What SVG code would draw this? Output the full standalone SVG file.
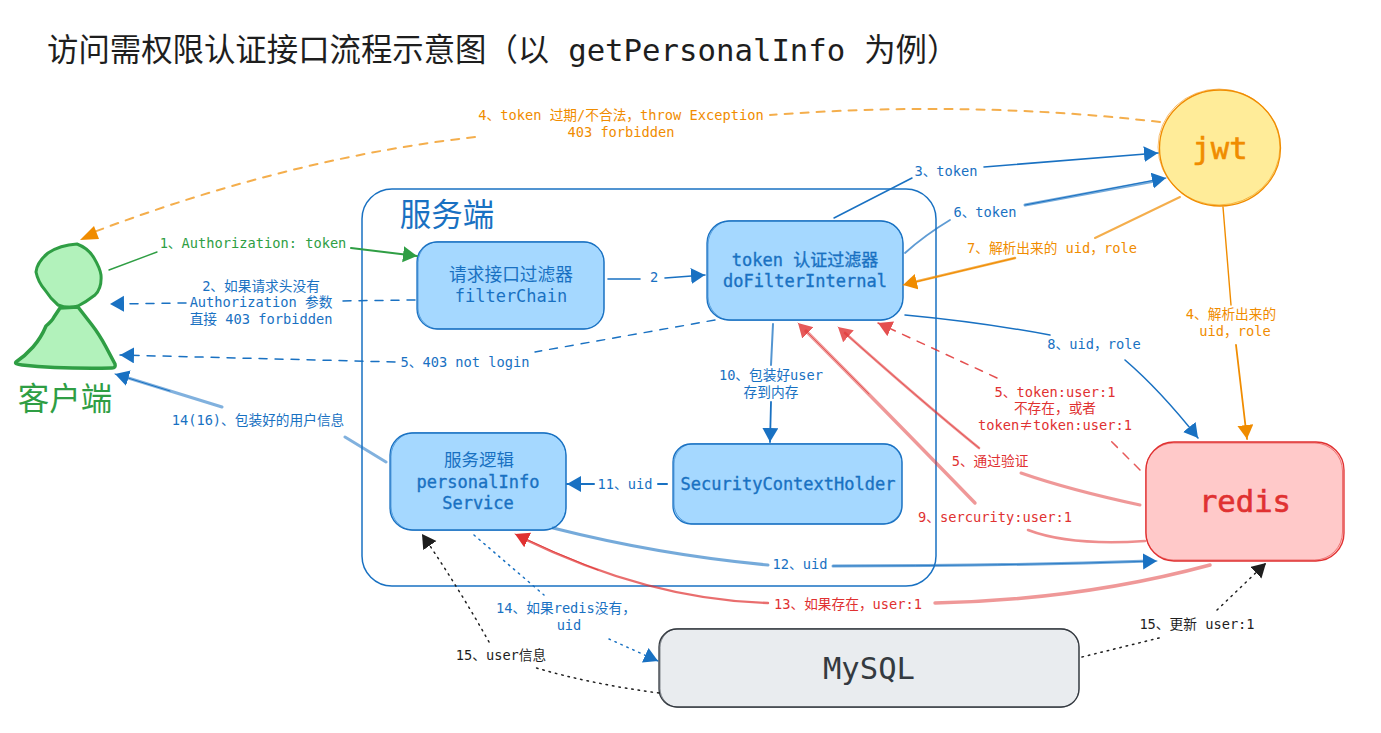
<svg xmlns="http://www.w3.org/2000/svg" width="1381" height="733" viewBox="0 0 1381 733">
<style>
text{font-family:"DejaVu Sans Mono","Noto Sans CJK SC",monospace;text-anchor:middle}
.l{font-size:13.7px}
.n{font-size:17px;fill:#1971c2}
.nb{stroke:#1971c2;stroke-width:.35}
.big{font-size:30.6px;stroke-width:.6}
.blue{fill:#1971c2}.green{fill:#2f9e44}.org{fill:#f08c00}.red{fill:#e03131}.blk{fill:#1e1e1e}
.w{font-family:"Noto Sans CJK SC",sans-serif}
.c{fill:none;stroke-linecap:round;stroke-linejoin:round}
.sb{stroke:#1971c2}.sg{stroke:#2f9e44}.so{stroke:#f08c00}.sr{stroke:#e03131}.sk{stroke:#1e1e1e}
.dash{stroke-dasharray:8 8}.dot{stroke-dasharray:1.5 5}
.box{stroke-width:1.3}
.bl{fill:#a5d8ff;stroke:#1971c2}
.sh{fill:none;stroke-width:.8;opacity:.7}
</style>
<defs>
<marker id="ab" markerUnits="userSpaceOnUse" markerWidth="18" markerHeight="18" refX="14" refY="8" orient="auto"><path d="M0 0L14 8L0 16z" fill="#1971c2"/></marker>
<marker id="ag" markerUnits="userSpaceOnUse" markerWidth="18" markerHeight="18" refX="14" refY="8" orient="auto"><path d="M0 0L14 8L0 16z" fill="#2f9e44"/></marker>
<marker id="ao" markerUnits="userSpaceOnUse" markerWidth="18" markerHeight="18" refX="14" refY="8" orient="auto"><path d="M0 0L14 8L0 16z" fill="#f08c00"/></marker>
<marker id="ar" markerUnits="userSpaceOnUse" markerWidth="18" markerHeight="18" refX="14" refY="8" orient="auto"><path d="M0 0L14 8L0 16z" fill="#e03131"/></marker>
<marker id="ak" markerUnits="userSpaceOnUse" markerWidth="18" markerHeight="18" refX="14" refY="8" orient="auto"><path d="M0 0L14 8L0 16z" fill="#1e1e1e"/></marker>
</defs>
<rect width="1381" height="733" fill="#fff"/>
<text id="title" x="47" y="61" font-size="31.4" fill="#1e1e1e" style="text-anchor:start">访问需权限认证接口流程示意图（以 <tspan font-size="30.7">getPersonalInfo</tspan> 为例）</text>

<g id="frame">
<rect x="362" y="189" width="574" height="397" rx="30" fill="none" stroke="#1971c2" stroke-width="1.5"/>
<text x="447" y="226" font-size="31.5" class="blue w">服务端</text>
</g>

<g id="client">
<path d="M77 244Q88 248 94 258T101 275Q102 288 95 295Q86 302 78 306Q68 309 58 305Q50 298 45 290Q38 282 36 272Q37 262 48 253Q60 245 77 244Z" fill="#b2f2bb" stroke="#2f9e44" stroke-width="3" stroke-linejoin="round"/>
<path d="M60 308L78 307Q85 316 92 325T106 347L115 364Q116 368 112 368Q60 369 22 365Q14 364 16 362Q25 356 33 347T46 326Q52 321 54 317Z" fill="#b2f2bb" stroke="#2f9e44" stroke-width="3.500" stroke-linejoin="round"/>
<text x="65" y="410" font-size="31.5" class="green w">客户端</text>
</g>

<g id="filter">
<rect x="417" y="242" width="187" height="87" rx="20" class="box bl"/>
<rect x="418" y="241.5" width="186" height="87.5" rx="21" class="sh" stroke="#1971c2"/>
<text x="511" y="281" class="n" style="font-size:17.7px">请求接口过滤器</text>
<text x="511" y="302" class="n">filterChain</text>
</g>

<g id="tokenFilter">
<rect x="707" y="221" width="196" height="99" rx="22" class="box bl"/>
<rect x="708" y="220.5" width="195" height="100" rx="24" class="sh" stroke="#1971c2"/>
<text x="805" y="266" class="n nb">token 认证过滤器</text>
<text x="805" y="287" class="n nb">doFilterInternal</text>
</g>

<g id="securityContext">
<rect x="673" y="444" width="229" height="80" rx="18" class="box bl"/>
<rect x="674" y="443.5" width="228" height="80.5" rx="20" class="sh" stroke="#1971c2"/>
<text x="788" y="490" class="n nb">SecurityContextHolder</text>
</g>

<g id="service">
<rect x="390" y="433" width="176" height="97" rx="22" class="box bl"/>
<rect x="391" y="432.5" width="175" height="98" rx="24" class="sh" stroke="#1971c2"/>
<text x="479" y="466" class="n" style="font-size:17.5px">服务逻辑</text>
<text x="478" y="488" class="n nb">personalInfo</text>
<text x="478" y="509" class="n nb">Service</text>
</g>

<g id="jwt">
<ellipse cx="1220" cy="148" rx="60.500" ry="58" fill="#ffec99" stroke="#f08c00" stroke-width="1.3"/>
<ellipse cx="1219" cy="147" rx="61" ry="58" fill="none" stroke="#f08c00" stroke-width=".8" opacity=".7"/>
<text x="1220" y="159" class="big org" stroke="#f08c00">jwt</text>
</g>

<g id="redis">
<rect x="1146" y="442" width="198" height="119" rx="28" fill="#ffc9c9" stroke="#e03131" stroke-width="1.3"/>
<rect x="1145.500" y="443" width="197" height="117" rx="28" class="sh" stroke="#e03131"/>
<text x="1245" y="512" class="big red" stroke="#e03131">redis</text>
</g>

<g id="mysql">
<rect x="659" y="629" width="420" height="78" rx="18" fill="#e9ecef" stroke="#343a40" stroke-width="1.3"/>
<rect x="660" y="628.500" width="419" height="79" rx="19" class="sh" stroke="#343a40"/>
<text x="869" y="679" class="big" fill="#343a40">MySQL</text>
</g>

<g id="connectors">
<path class="c sg" stroke-width="1.4" d="M109 270L157 252"/>
<path class="c sg" stroke-width="2" d="M351 248L417 256" marker-end="url(#ag)"/>
<path class="c sb dash" stroke-width="1.5" d="M415 300L337 301M186 303L110 304" marker-end="url(#ab)"/>
<path class="c sb" stroke-width="1.6" d="M608 279L640 279"/>
<path class="c sb" stroke-width="1.6" d="M665 278L705 275" marker-end="url(#ab)"/>
<path class="c sb" stroke-width="1.5" d="M834 218L912 178"/>
<path class="c sb" stroke-width="1.6" d="M984 167L1158 153" marker-end="url(#ab)"/>
<path class="c so dash" stroke-width="2" opacity=".7" d="M1160 122Q970 100 770 115"/>
<path class="c so dash" stroke-width="2" opacity=".7" d="M475 137Q290 158 94 232"/>
<path d="M80 240L94 226L99 239Z" fill="#f08c00"/>
<path class="c sb dash" stroke-width="1.4" d="M715 320L535 352"/>
<path class="c sb dash" stroke-width="1.5" d="M395 362L120 355" marker-end="url(#ab)"/>
<path class="c sb" stroke-width="1.8" opacity=".7" d="M905 253Q925 235 950 220"/>
<path class="c sb" stroke-width="3" opacity=".6" d="M1025 205L1160 180"/>
<path class="c sb" stroke-width="1" d="M1025 205L1166 178" marker-end="url(#ab)"/>
<path class="c so" stroke-width="2" opacity=".7" d="M1180 197L1095 238"/>
<path class="c so" stroke-width="2.6" opacity=".7" d="M1015 258L910 283"/>
<path class="c so" stroke-width="1" d="M1015 258L903 285" marker-end="url(#ao)"/>
<path class="c sb" stroke-width="1.5" d="M905 315Q980 322 1050 335"/>
<path class="c sb" stroke-width="1.6" d="M1125 360Q1160 390 1198 438" marker-end="url(#ab)"/>
<path class="c so" stroke-width="1.4" d="M1223 207L1231 305"/>
<path class="c so" stroke-width="1.8" d="M1236 345L1247 439" marker-end="url(#ao)"/>
<path class="c sb" stroke-width="2" opacity=".75" d="M773 324L771 365"/>
<path class="c sb" stroke-width="1.8" d="M771 402L770 442" marker-end="url(#ab)"/>
<path class="c sb" stroke-width="2" d="M667 484L658 484"/>
<path class="c sb" stroke-width="2" d="M594 484L567 484" marker-end="url(#ab)"/>
<path class="c sb" stroke-width="3" opacity=".55" d="M386 462L345 437M222 407L125 377"/>
<path class="c sb" stroke-width="1" d="M170 391L115 374" marker-end="url(#ab)"/>
<path class="c sr" stroke-width="3" opacity=".5" d="M1140 505Q1070 490 1021 473"/>
<path class="c sr" stroke-width="2.6" opacity=".55" d="M979 448Q920 400 845 333"/>
<path class="c sr" stroke-width=".8" opacity=".8" d="M979 448Q920 400 838 327" marker-end="url(#ar)"/>
<path class="c sr" stroke-width="2.6" opacity=".55" d="M1145 541Q1070 546 1028 530"/>
<path class="c sr" stroke-width="3.4" opacity=".5" d="M975 503Q880 405 806 331"/>
<path class="c sr" stroke-width=".8" opacity=".8" d="M869 394L798 323" marker-end="url(#ar)"/>
<path class="c sr dash" stroke-width="1.5" opacity=".8" d="M1140 470L1108 438"/>
<path class="c sr dash" stroke-width="1.5" opacity=".85" d="M997 378L878 323" marker-end="url(#ar)"/>
<path class="c sb" stroke-width="3" opacity=".6" d="M553 528Q660 555 768 565"/>
<path class="c sb" stroke-width="3" opacity=".6" d="M833 566Q1000 566 1150 561"/>
<path class="c sb" stroke-width=".8" d="M833 566Q1000 566 1157 561" marker-end="url(#ab)"/>
<path class="c sr" stroke-width="3.4" opacity=".5" d="M1210 565Q1080 600 935 603"/>
<path class="c sr" stroke-width="2.4" opacity=".7" d="M768 603Q650 600 522 538"/>
<path class="c sr" stroke-width=".8" d="M598 570Q555 553 515 534" marker-end="url(#ar)"/>
<path class="c sb dot" stroke-width="1.5" d="M474 535L544 595"/>
<path class="c sb dot" stroke-width="1.5" d="M609 639L658 661" marker-end="url(#ab)"/>
<path class="c sk dot" stroke-width="1.5" d="M659 693Q590 684 533 667"/>
<path class="c sk dot" stroke-width="1.5" d="M489 642Q460 590 422 534" marker-end="url(#ak)"/>
<path class="c sk dot" stroke-width="1.5" d="M1082 657L1163 637"/>
<path class="c sk dot" stroke-width="1.5" d="M1217 610L1266 563" marker-end="url(#ak)"/>

<text x="253" y="248" class="l green">1、Authorization: token</text>
<text x="261" y="291" class="l blue">2、如果请求头没有</text>
<text x="261" y="307" class="l blue">Authorization 参数</text>
<text x="261" y="324" class="l blue">直接 403 forbidden</text>
<text x="654" y="282" class="l blue">2</text>
<text x="946" y="176" class="l blue">3、token</text>
<text x="621" y="120" class="l org">4、token 过期/不合法，throw Exception</text>
<text x="621" y="137" class="l org">403 forbidden</text>
<text x="465" y="367" class="l blue">5、403 not login</text>
<text x="985" y="217" class="l blue">6、token</text>
<text x="1052" y="253" class="l org">7、解析出来的 uid，role</text>
<text x="1094" y="349" class="l blue">8、uid，role</text>
<text x="1231" y="319" class="l org">4、解析出来的</text>
<text x="1235" y="336" class="l org">uid，role</text>
<text x="771" y="380" class="l blue">10、包装好user</text>
<text x="771" y="397" class="l blue">存到内存</text>
<text x="625" y="489" class="l blue">11、uid</text>
<text x="258" y="425" class="l blue">14(16)、包装好的用户信息</text>
<text x="1055" y="397" class="l red">5、token:user:1</text>
<text x="1055" y="413" class="l red">不存在，或者</text>
<text x="1055" y="430" class="l red">token<tspan class="w">≠</tspan>token:user:1</text>
<text x="990" y="466" class="l red">5、通过验证</text>
<text x="995" y="522" class="l red">9、sercurity:user:1</text>
<text x="800" y="569" class="l blue">12、uid</text>
<text x="848" y="609" class="l red">13、如果存在，user:1</text>
<text x="566" y="613" class="l blue">14、如果redis没有，</text>
<text x="569" y="630" class="l blue">uid</text>
<text x="501" y="660" class="l blk">15、user信息</text>
<text x="1197" y="629" class="l blk">15、更新 user:1</text>
</g>
</svg>
